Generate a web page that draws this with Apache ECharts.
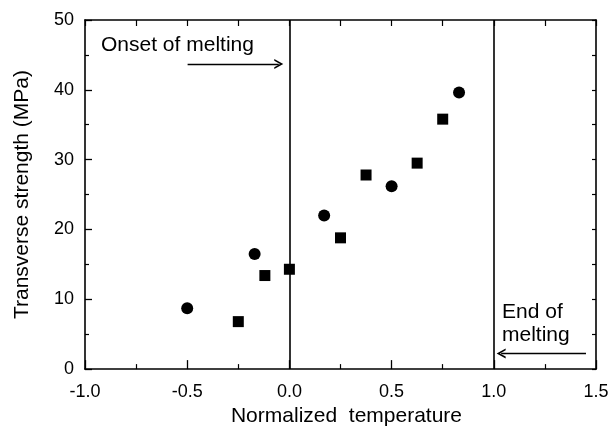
<!DOCTYPE html>
<html>
<head>
<meta charset="utf-8">
<script src="https://cdn.jsdelivr.net/npm/echarts@6/dist/echarts.min.js"></script>
<style>
html,body{margin:0;padding:0;background:#fff;}
#chart{width:613px;height:432px;}
</style>
</head>
<body>
<div id="chart"></div>
<script>
// ---- data ----
var circleX = [-0.5, -0.17, 0.17, 0.5, 0.83];
var circleY = [8.7, 16.5, 22.0, 26.2, 39.6];
var squareX = [-0.25, -0.12, 0.0, 0.25, 0.375, 0.625, 0.75];
var squareY = [6.8, 13.4, 14.3, 18.8, 27.8, 29.5, 35.8];
var meltLines = [0.0, 1.0];
// arrows: [x0, y0, x1, y1] (from -> to)
var onsetArrow = [-0.498, 43.7, -0.052, 43.7];
var endArrow = [1.451, 2.25, 1.036, 2.25];
var xTicks = [-1.0, -0.5, 0.0, 0.5, 1.0, 1.5];
var yTicks = [0, 10, 20, 30, 40, 50];

var FONT = 'Liberation Sans';
var arrowHead = 'path://M0,10 L5,0 L10,10 L8.2,10 L5,3.6 L1.8,10 Z';

function pairs(xs, ys) { return xs.map(function (x, i) { return [x, ys[i]]; }); }

var chart = echarts.init(document.getElementById('chart'), null, {renderer: 'canvas'});
var axisLine = {show: true, onZero: false, lineStyle: {color: '#000', width: 1.6}};
var option = {
  animation: false,
  backgroundColor: '#fff',
  grid: {left: 85, right: 17, top: 20, bottom: 57, containLabel: false},
  xAxis: [{
    type: 'value', min: xTicks[0], max: xTicks[xTicks.length - 1], interval: 0.5,
    position: 'bottom',
    axisLine: axisLine,
    axisTick: {inside: true, length: 9, lineStyle: {color: '#000', width: 1.3}},
    minorTick: {show: true, splitNumber: 2, length: 5, lineStyle: {color: '#000', width: 1.2}},
    splitLine: {show: false},
    axisLabel: {fontFamily: FONT, fontSize: 18, color: '#000', margin: 14,
      formatter: function (v) { return v.toFixed(1); }},
    name: 'Normalized  temperature', nameLocation: 'middle', nameGap: 34,
    nameTextStyle: {fontFamily: FONT, fontSize: 21, color: '#000', padding: [0, 0, 0, 12]}
  }, {
    type: 'value', min: xTicks[0], max: xTicks[xTicks.length - 1], interval: 0.25,
    position: 'top',
    axisLine: axisLine,
    axisTick: {inside: true, length: 6, lineStyle: {color: '#000', width: 1.2}},
    axisLabel: {show: false}, splitLine: {show: false}
  }],
  yAxis: [{
    type: 'value', min: yTicks[0], max: yTicks[yTicks.length - 1], interval: 10,
    position: 'left',
    axisLine: axisLine,
    axisTick: {inside: true, length: 7, lineStyle: {color: '#000', width: 1.3}},
    minorTick: {show: true, splitNumber: 2, length: 4, lineStyle: {color: '#000', width: 1.2}},
    splitLine: {show: false},
    axisLabel: {fontFamily: FONT, fontSize: 18, color: '#000', margin: 11},
    name: 'Transverse strength (MPa)', nameLocation: 'middle', nameGap: 52,
    nameTextStyle: {fontFamily: FONT, fontSize: 21, color: '#000', padding: [0, 0, 0, 0]}
  }, {
    type: 'value', min: yTicks[0], max: yTicks[yTicks.length - 1], interval: 5,
    position: 'right',
    axisLine: axisLine,
    axisTick: {inside: true, length: 4, lineStyle: {color: '#000', width: 1.2}},
    axisLabel: {show: false}, splitLine: {show: false}
  }],
  series: [{
    name: 'circles', type: 'scatter', xAxisIndex: 0, yAxisIndex: 0,
    symbol: 'circle', symbolSize: 12,
    itemStyle: {color: '#000', opacity: 1},
    data: pairs(circleX, circleY),
    z: 5
  }, {
    name: 'squares', type: 'scatter', xAxisIndex: 0, yAxisIndex: 0,
    symbol: 'rect', symbolSize: 11,
    itemStyle: {color: '#000', opacity: 1},
    data: pairs(squareX, squareY),
    z: 5,
    markLine: {
      silent: true, animation: false,
      symbol: ['none', 'none'],
      label: {show: false},
      lineStyle: {color: '#000', width: 1.6, type: 'solid', opacity: 1},
      emphasis: {disabled: true},
      data: meltLines.map(function (x) { return {xAxis: x}; }).concat([
        [{coord: [onsetArrow[0], onsetArrow[1]], symbol: 'none', lineStyle: {width: 1.3}},
         {coord: [onsetArrow[2], onsetArrow[3]], symbol: arrowHead, symbolSize: [10, 9]}],
        [{coord: [endArrow[0], endArrow[1]], symbol: 'none', lineStyle: {width: 1.3}},
         {coord: [endArrow[2], endArrow[3]], symbol: arrowHead, symbolSize: [10, 9]}]
      ])
    }
  }],
  graphic: [
    {type: 'text', left: 101, top: 35, silent: true,
     style: {text: 'Onset of melting', fontFamily: FONT, fontSize: 21, fill: '#000'}},
    {type: 'text', left: 502, top: 300, silent: true,
     style: {text: 'End of\nmelting', fontFamily: FONT, fontSize: 21, lineHeight: 23.5, fill: '#000'}}
  ]
};
chart.setOption(option);
</script>
</body>
</html>
